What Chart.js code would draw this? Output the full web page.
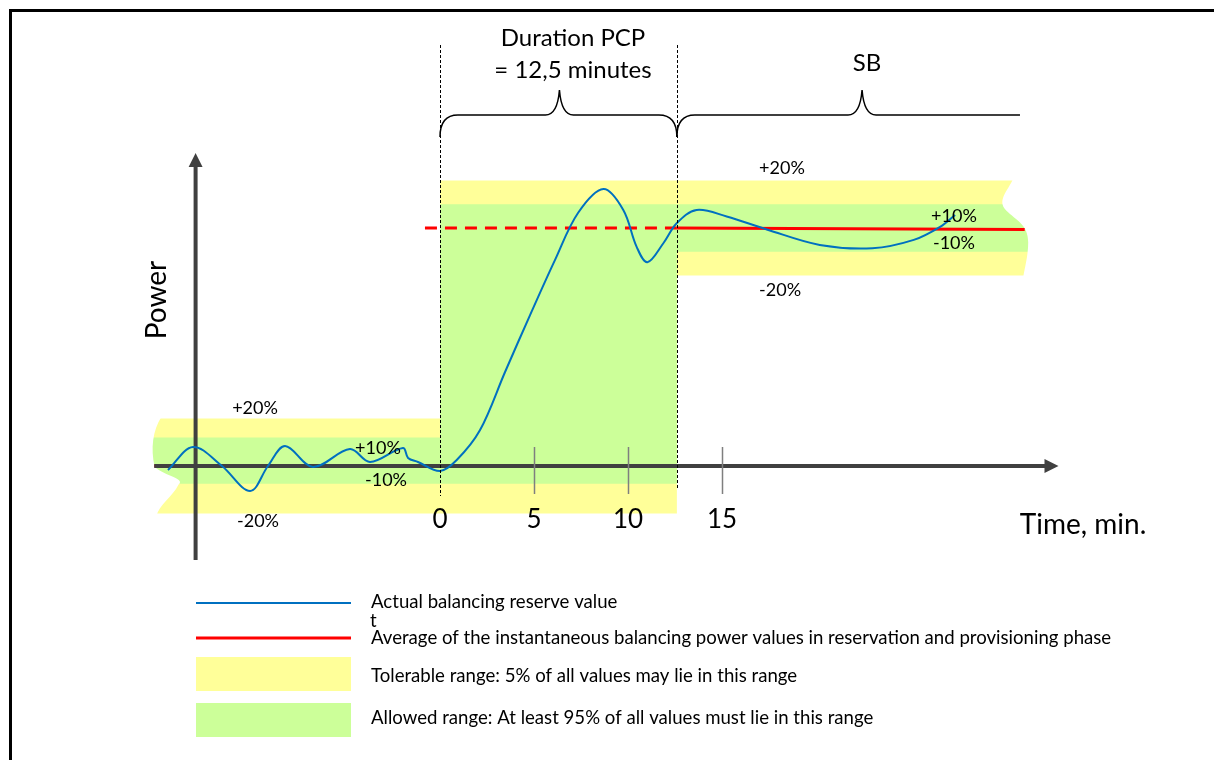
<!DOCTYPE html>
<html lang="en">
<head>
<meta charset="UTF-8">
<title>Balancing reserve - PCP</title>
<script src="https://cdn.jsdelivr.net/npm/chart.js"></script>
<style>
  body { margin: 0; background: #fff; }
  #wrap { width: 1214px; height: 760px; }
</style>
</head>
<body>
<div id="wrap"><canvas id="graphique" width="1214" height="760"></canvas></div>

<script>
// time in minutes, power in % of the activated step (0 = before, 100 = after)
const actualT = [-14.47, -13.14, -11.6, -10.1, -9.15, -8.24, -6.76, -4.79, -3.72, -1.97, -1.7, -1.17, 0,
                 0.89, 2.13, 3.46, 4.79, 6.12, 7.34, 8.69, 9.75, 10.46, 11.03, 11.88, 12.59, 13.65,
                 15.25, 17.38, 20.2, 23.0, 25.2, 26.6, 27.4];
const actualP = [-1.7, 8.0, 0, -10.5, 0, 8.4, -0.4, 7.1, 1.7, 7.6, 3.4, 1.7, -2.1,
                 2.5, 15.1, 39.5, 63.4, 86.6, 106.3, 116.4, 107.6, 92.1, 85.6, 93.6, 102, 107.6,
                 104.8, 99.4, 92.9, 91.5, 95.0, 100.5, 105.5];

const avgBeforeT = [-15.2, 0];
const avgBeforeP = [0, 0];
const avgPcpT = [-0.8, 12.6];
const avgPcpP = [100, 100];
const avgSbT = [12.6, 31.1];
const avgSbP = [100, 99.4];

// bands (step at t=0 going up, step at end of PCP going down)
const bandT      = [-15.5, 0, 0, 12.6, 12.6, 31.5];
const tolUpper   = [20, 20, 120, 120, 120, 120];
const tolLower   = [-20, -20, -20, -20, 80, 80];
const allowUpper = [12, 12, 110, 110, 110, 110];
const allowLower = [-7.5, -7.5, -7.5, -7.5, 90, 90];

const tickValues = [0, 5, 10, 15];
const pcpEnd = 12.6;

const bandLabels = [
  {text: '+20%', t: -9.84, p: 24.4},
  {text: '-20%', t: -9.68, p: -23.1},
  {text: '+10%', t: -3.3, p: 7.6},
  {text: '-10%', t: -2.87, p: -5.9},
  {text: '+20%', t: 18.19, p: 125.2},
  {text: '-20%', t: 18.09, p: 73.9},
  {text: '+10%', t: 27.34, p: 105.0},
  {text: '-10%', t: 27.34, p: 93.7}
];

const legendTexts = [
  'Actual balancing reserve value',
  'Average of the instantaneous balancing power values in reservation and provisioning phase',
  'Tolerable range: 5% of all values may lie in this range',
  'Allowed range: At least 95% of all values must lie in this range'
];

const JAUNE = '#ffff99';
const VERT = '#ccff99';
const BLEU = '#0070c0';
const ROUGE = '#ff0000';
const AXE = '#404040';
const POLICE = 'Lato, "Open Sans", sans-serif';

function pts(xs, ys) {
  return xs.map((x, i) => ({x: x, y: ys[i]}));
}

function bande(xs, ys, couleur, cible, ordre) {
  return {
    data: pts(xs, ys), borderWidth: 0, borderColor: 'rgba(0,0,0,0)', pointRadius: 0,
    fill: cible === null ? false : {target: cible}, backgroundColor: couleur, tension: 0, order: ordre
  };
}

function accolade(ctx, x1, x2, xm, yL, yTip, yEnd, finDroite) {
  ctx.beginPath();
  ctx.moveTo(x1, yEnd);
  ctx.quadraticCurveTo(x1, yL, x1 + 18, yL);
  ctx.lineTo(xm - 14, yL);
  ctx.quadraticCurveTo(xm - 2, yL, xm, yTip);
  ctx.quadraticCurveTo(xm + 2, yL, xm + 14, yL);
  if (finDroite) {
    ctx.lineTo(x2 - 18, yL);
    ctx.quadraticCurveTo(x2, yL, x2, yEnd);
  } else {
    ctx.lineTo(x2, yL);
  }
  ctx.stroke();
}

const decor = {
  id: 'decor',
  beforeDraw(chart) {
    const ctx = chart.ctx;
    ctx.save();
    ctx.fillStyle = '#fff';
    ctx.fillRect(0, 0, chart.width, chart.height);
    // cadre
    ctx.strokeStyle = '#000';
    ctx.lineWidth = 3;
    ctx.beginPath();
    ctx.moveTo(10.5, chart.height);
    ctx.lineTo(10.5, 10.5);
    ctx.lineTo(chart.width, 10.5);
    ctx.stroke();
    ctx.restore();
  },
  afterDatasetDraw(chart, args) {
    const ctx = chart.ctx;
    const xs = chart.scales.x, ys = chart.scales.y;
    if (args.index === 3) {
      // bords dechires des bandes
      ctx.save();
      ctx.fillStyle = '#fff';
      const xl = xs.getPixelForValue(bandT[0]);
      const yt = ys.getPixelForValue(20), yb = ys.getPixelForValue(-20);
      ctx.beginPath();
      ctx.moveTo(xl - 10, yt - 2);
      ctx.lineTo(xl + 13, yt - 2);
      ctx.bezierCurveTo(xl + 4, yt + 12, xl + 2, yt + 30, xl + 6, yt + 48);
      ctx.bezierCurveTo(xl + 12, yt + 56, xl + 38, yt + 60, xl + 30, yt + 66);
      ctx.bezierCurveTo(xl + 24, yt + 78, xl + 10, yb - 8, xl + 8, yb + 2);
      ctx.lineTo(xl - 10, yb + 2);
      ctx.closePath();
      ctx.fill();
      const xr = xs.getPixelForValue(bandT[bandT.length - 1]);
      const rt = ys.getPixelForValue(120), rb = ys.getPixelForValue(80);
      ctx.beginPath();
      ctx.moveTo(xr + 10, rt - 2);
      ctx.lineTo(xr - 19, rt - 2);
      ctx.bezierCurveTo(xr - 24, rt + 10, xr - 36, rt + 20, xr - 26, rt + 30);
      ctx.bezierCurveTo(xr - 16, rt + 40, xr - 4, rt + 44, xr - 4, rt + 62);
      ctx.bezierCurveTo(xr - 4, rt + 76, xr - 8, rb - 6, xr - 9, rb + 2);
      ctx.lineTo(xr + 10, rb + 2);
      ctx.closePath();
      ctx.fill();
      ctx.restore();
    }
    if (args.index === 6) {
      // axes
      ctx.save();
      ctx.strokeStyle = AXE;
      ctx.fillStyle = AXE;
      ctx.lineWidth = 4;
      const y0 = ys.getPixelForValue(0);
      const xA = xs.getPixelForValue(-15.2), xB = xs.getPixelForValue(32.9);
      ctx.beginPath();
      ctx.moveTo(xA, y0);
      ctx.lineTo(xB - 12, y0);
      ctx.stroke();
      ctx.beginPath();
      ctx.moveTo(xB, y0);
      ctx.lineTo(xB - 14, y0 - 7);
      ctx.lineTo(xB - 14, y0 + 7);
      ctx.closePath();
      ctx.fill();
      const xY = xs.getPixelForValue(-13);
      const yA = ys.getPixelForValue(-39.5), yB = ys.getPixelForValue(131.5);
      ctx.beginPath();
      ctx.moveTo(xY, yA);
      ctx.lineTo(xY, yB + 12);
      ctx.stroke();
      ctx.beginPath();
      ctx.moveTo(xY, yB);
      ctx.lineTo(xY - 7, yB + 14);
      ctx.lineTo(xY + 7, yB + 14);
      ctx.closePath();
      ctx.fill();
      ctx.restore();
    }
  },
  afterDraw(chart) {
    const ctx = chart.ctx;
    const xs = chart.scales.x, ys = chart.scales.y;
    const y0 = ys.getPixelForValue(0);
    ctx.save();

    // graduations
    ctx.strokeStyle = '#7f7f7f';
    ctx.lineWidth = 1.5;
    tickValues.forEach(v => {
      if (v === 0) return;
      const x = Math.round(xs.getPixelForValue(v)) + 0.5;
      ctx.beginPath();
      ctx.moveTo(x, y0 - 19);
      ctx.lineTo(x, y0 + 28);
      ctx.stroke();
    });
    ctx.fillStyle = '#000';
    ctx.font = '26px ' + POLICE;
    ctx.textAlign = 'center';
    ctx.textBaseline = 'middle';
    tickValues.forEach(v => ctx.fillText(String(v), xs.getPixelForValue(v), y0 + 54));

    // lignes pointillees verticales
    ctx.strokeStyle = '#000';
    ctx.lineWidth = 1;
    ctx.setLineDash([3, 2]);
    [0, pcpEnd].forEach((v, i) => {
      const x = Math.round(xs.getPixelForValue(v)) + 0.5;
      ctx.beginPath();
      ctx.moveTo(x, 45);
      ctx.lineTo(x, i === 0 ? y0 + 30 : y0 + 24);
      ctx.stroke();
    });
    ctx.setLineDash([]);

    // accolades
    ctx.lineWidth = 1.5;
    const xa = xs.getPixelForValue(0), xb = xs.getPixelForValue(pcpEnd);
    accolade(ctx, xa, xb, (xa + xb) / 2 + 1, 115, 90, 137, true);
    accolade(ctx, xb, xs.getPixelForValue(30.85), xs.getPixelForValue(22.45), 115, 90, 137, false);

    // textes
    ctx.font = '24px ' + POLICE;
    ctx.fillText('Duration PCP', 573, 38);
    ctx.fillText('= 12,5 minutes', 573, 70);
    ctx.fillText('SB', 867, 63);

    ctx.font = '18px ' + POLICE;
    bandLabels.forEach(l => ctx.fillText(l.text, xs.getPixelForValue(l.t), ys.getPixelForValue(l.p)));

    ctx.font = '28px ' + POLICE;
    ctx.fillText('Time, min.', 1083, 525);
    ctx.save();
    ctx.translate(157, 300);
    ctx.rotate(-Math.PI / 2);
    ctx.fillText('Power', 0, 0);
    ctx.restore();

    // legende
    ctx.lineWidth = 2;
    ctx.strokeStyle = BLEU;
    ctx.beginPath(); ctx.moveTo(196, 603); ctx.lineTo(351, 603); ctx.stroke();
    ctx.lineWidth = 3;
    ctx.strokeStyle = ROUGE;
    ctx.beginPath(); ctx.moveTo(196, 638); ctx.lineTo(351, 638); ctx.stroke();
    ctx.fillStyle = JAUNE;
    ctx.fillRect(196, 657, 155, 34);
    ctx.fillStyle = VERT;
    ctx.fillRect(196, 703, 155, 34);

    ctx.fillStyle = '#000';
    ctx.textAlign = 'left';
    ctx.font = '18.6px ' + POLICE;
    const yLeg = [602, 638, 676, 718];
    legendTexts.forEach((t, i) => ctx.fillText(t, 371, yLeg[i]));
    ctx.fillText('t', 370, 621);
    ctx.restore();
  }
};

new Chart(document.getElementById('graphique'), {
  type: 'line',
  data: {
    datasets: [
      bande(bandT, tolUpper, JAUNE, 1, 20),
      bande(bandT, tolLower, JAUNE, null, 19),
      bande(bandT, allowUpper, VERT, 3, 18),
      bande(bandT, allowLower, VERT, null, 17),
      {data: pts(avgBeforeT, avgBeforeP), borderColor: ROUGE, borderWidth: 3, pointRadius: 0, fill: false, order: 7},
      {data: pts(avgPcpT, avgPcpP), borderColor: ROUGE, borderWidth: 3, borderDash: [12, 8], pointRadius: 0, fill: false, order: 6},
      {data: pts(avgSbT, avgSbP), borderColor: ROUGE, borderWidth: 3, pointRadius: 0, fill: false, order: 5},
      {data: pts(actualT, actualP), borderColor: BLEU, borderWidth: 2, pointRadius: 0, fill: false,
       tension: 0.35, order: 1}
    ]
  },
  options: {
    responsive: false,
    animation: false,
    devicePixelRatio: 1,
    layout: {padding: 0},
    plugins: {legend: {display: false}, tooltip: {enabled: false}},
    scales: {
      x: {type: 'linear', display: false, min: -23.404, max: 41.17},
      y: {type: 'linear', display: false, min: -123.53, max: 195.8}
    }
  },
  plugins: [decor]
});
</script>
</body>
</html>
